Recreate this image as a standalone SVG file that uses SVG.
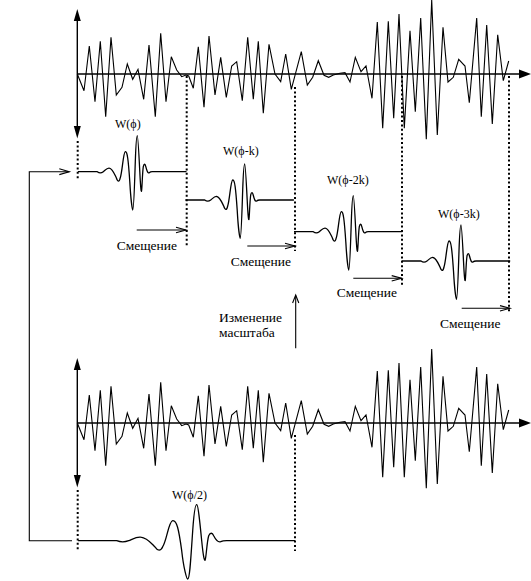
<svg xmlns="http://www.w3.org/2000/svg" xmlns:xlink="http://www.w3.org/1999/xlink" width="531" height="581" viewBox="0 0 531 581">
<style>
.sig{fill:none;stroke:#000;stroke-width:1.1;stroke-linejoin:miter}
.ax{fill:none;stroke:#000;stroke-width:1.4}
.wv{fill:none;stroke:#000;stroke-width:1.3;stroke-linejoin:round}
.dot{fill:none;stroke:#000;stroke-width:2;stroke-dasharray:2 2.4}
.thin{fill:none;stroke:#000;stroke-width:1.1}
.head{fill:#000;stroke:none}
text{fill:#000}
.lbl{font-size:12px}
.txt{font-size:13.5px}
</style>
<defs>
<polyline id="signal" class="sig" points="77.3,74 84,90.7 89.3,46 95,101.7 100.3,41.3 105.7,116.7 111,37.3 116.3,95 122,87.3 127.3,64 132.7,79.3 138,69.3 143.7,99.3 149,45 155.3,116.7 160.7,33.3 166,101.7 171.3,56.7 176.7,70 181.7,76.7 186,75 188.7,76 193.3,88.3 198.3,46.7 204,107.3 209,36 215,95 220.7,57.3 226.3,97.3 231.7,66 236.7,61.7 242.3,100.7 247.7,37.3 253.3,99.3 258.3,41.3 263.3,113.3 269,44.3 275,74 280.7,81.7 285.7,54 291.3,89.3 301.3,51.7 307.3,85 312.7,77.3 318.3,60.7 324,75.3 328.7,77.3 333.3,75 340,73.3 345,72.7 350,82 355.3,57.3 361,71.7 366,66 372,98.3 377.3,22 382.7,128.3 388.3,21.3 393.7,118.3 399,14 404.3,128.3 410,30.7 415.3,111.7 420.7,18 426.3,139.3 431.7,0 437.3,135 443,27.3 448,82 453.3,77.3 458.7,59.3 465,66 469.3,102.7 476.7,18 481.3,116.7 486.7,25 492.3,124 497.7,34.7 503.3,80.7 508.7,61"/>
<g id="axes">
<line class="ax" x1="77.3" y1="74" x2="520" y2="74"/>
<polygon class="head" points="519,69.5 531,74 519,78.5"/>
<line class="ax" x1="77.3" y1="20" x2="77.3" y2="127"/>
<polygon class="head" points="77.3,9 73.8,21 80.8,21"/>
<polygon class="head" points="73.8,126 80.8,126 77.3,138.5"/>
</g>
<path id="wave" class="wv" vector-effect="non-scaling-stroke" d="M -59.3,0 H -40 C -38,1.6 -36,1.6 -34,0 C -32,-1.6 -30,-4 -28,-3.5 C -25,-3 -23,2 -21,6 C -19.5,10.5 -18,10.5 -17,6 C -15,0 -14,-19.5 -12,-20 C -10,-20.5 -9,-12 -7.5,10 C -6.5,28 -5,38.3 -4.5,38.3 C -3.5,38.3 -3,20 -2,-10 C -1.2,-33 -0.5,-36 0,-36 C 0.7,-36 1.5,-20 2.5,0 C 3.2,14 3.7,20 4.2,19.5 C 4.8,17 5,2 6,-5 C 6.8,-8.5 7.8,-8 8.5,-5 C 9.5,-1 10.5,2 12,1 C 13,0 14,0 15,0 H 49.2"/>
</defs>

<g id="signal-top">
<use xlink:href="#axes"/>
<use xlink:href="#signal"/>
</g>

<g id="signal-bottom" transform="translate(0,349)">
<use xlink:href="#axes"/>
<use xlink:href="#signal"/>
</g>

<g font-family="Liberation Serif, Times New Roman, DejaVu Serif, serif">
<g id="wavelet-1">
<use xlink:href="#wave" transform="translate(137.3,171.7)"/>
<text class="lbl" x="115" y="128">W(ϕ)</text>
</g>
<g id="wavelet-2">
<use xlink:href="#wave" transform="translate(244.7,200)"/>
<text class="lbl" x="223" y="155">W(ϕ-k)</text>
</g>
<g id="wavelet-3">
<use xlink:href="#wave" transform="translate(353.3,231.7)"/>
<text class="lbl" x="327" y="184">W(ϕ-2k)</text>
</g>
<g id="wavelet-4">
<use xlink:href="#wave" transform="translate(461,261)"/>
<text class="lbl" x="438" y="218">W(ϕ-3k)</text>
</g>
<g id="wavelet-half">
<use xlink:href="#wave" transform="translate(196.7,540.7) scale(2,1)"/>
<text class="lbl" x="172" y="499">W(ϕ/2)</text>
</g>

<g id="scale-label">
<text class="txt" x="219" y="321.7">Изменение</text>
<text class="txt" x="219" y="336.7">масштаба</text>
</g>
<g id="shift-labels">
<text class="txt" x="116.7" y="250">Смещение</text>
<text class="txt" x="230.7" y="266">Смещение</text>
<text class="txt" x="336.7" y="297">Смещение</text>
<text class="txt" x="440" y="328">Смещение</text>
</g>
</g>

<g id="connectors">
<line class="dot" x1="77.7" y1="141" x2="77.7" y2="180"/>
<line class="dot" x1="186.7" y1="76" x2="186.7" y2="247"/>
<line class="dot" x1="295" y1="87" x2="295" y2="251"/>
<line class="dot" x1="402" y1="76" x2="402" y2="287"/>
<line class="dot" x1="509" y1="76" x2="509" y2="312"/>
<line class="dot" x1="77.7" y1="490" x2="77.7" y2="551"/>
<line class="dot" x1="295" y1="435" x2="295" y2="551"/>
<polyline class="thin" points="69.3,171.7 29.3,171.7 29.3,540.7 72,540.7"/>
<polyline class="thin" points="59.3,168.8 69.3,171.7 59.3,174.6"/>
<line class="thin" x1="136.7" y1="230" x2="186" y2="230"/>
<polyline class="thin" points="176,227.3 186,230 176,232.7"/>
<line class="thin" x1="247.3" y1="246" x2="295" y2="246"/>
<polyline class="thin" points="285,243.3 295,246 285,248.7"/>
<line class="thin" x1="353.3" y1="278.3" x2="401.7" y2="278.3"/>
<polyline class="thin" points="391.7,275.6 401.7,278.3 391.7,281"/>
<line class="thin" x1="461.7" y1="308.3" x2="510" y2="308.3"/>
<polyline class="thin" points="500,305.6 510,308.3 500,311"/>
<line class="thin" x1="295.7" y1="348.3" x2="295.7" y2="295.5"/>
<polyline class="thin" points="292.6,303 295.7,295 298.8,303"/>
</g>
</svg>
